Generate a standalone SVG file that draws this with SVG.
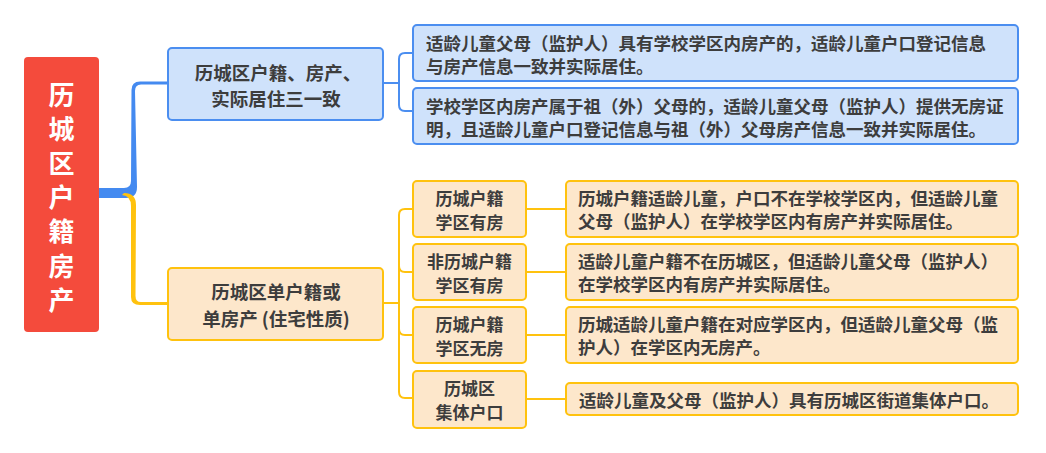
<svg xmlns="http://www.w3.org/2000/svg" width="1046" height="453" viewBox="0 0 1046 453">
<style>
text{font-family:"Noto Sans CJK SC","Noto Sans",sans-serif;font-weight:bold;fill:#3d3d3d;dominant-baseline:central}
.root{fill:#f44b3c}
.rt{fill:#ffffff;font-size:26px;text-anchor:middle}
.bn{fill:#cfe2fb;stroke:#4b8ef0;stroke-width:2}
.on{fill:#fde7cb;stroke:#ffc20e;stroke-width:2}
.mid{font-size:18.5px;text-anchor:middle}
.sm{font-size:17px;text-anchor:middle}
.dt{font-size:17.5px}
.bl{fill:none;stroke:#4b8ef0;stroke-width:2}
.ol{fill:none;stroke:#ffc20e;stroke-width:2}
</style>
<rect width="1046" height="453" fill="#ffffff"/>
<g id="connectors">
<path d="M99,188 L124,188 Q131,188 131,181 L131.5,90 Q131.5,81.5 140,81.5 L168,81.5 L168,84.5 L141,84.5 Q135,84.5 135,91 L137,187 Q137,198 126,198 L99,198 Z" fill="#448af0"/>
<path d="M122,195 Q131,196 131,206 L131,297 Q131,305 140,305 L168,305 L168,302 L141,302 Q135.5,302 135.5,296 L136,205 Q136,193 124,193 Z" fill="#ffc20e"/>
<path class="bl" d="M383,83 L399,83 M413,53 L405,53 Q399,53 399,59 L399,105 Q399,111 405,111 L413,111"/>
<path class="ol" d="M383,303 L399,303 M413,209 L405,209 Q399,209 399,215 L399,392 Q399,398 405,398 L413,398 M399,266 Q399,272 405,272 L413,272 M399,329 Q399,335 405,335 L413,335"/>
<path class="ol" d="M526,209 L566,209 M526,272 L566,272 M526,335 L566,335 M526,399 L566,399"/>
</g>
<g id="root">
<rect class="root" x="24" y="57" width="75" height="275" rx="4"/>
<text class="rt" x="61.5" y="93">历</text>
<text class="rt" x="61.5" y="127">城</text>
<text class="rt" x="61.5" y="161">区</text>
<text class="rt" x="61.5" y="195">户</text>
<text class="rt" x="61.5" y="229">籍</text>
<text class="rt" x="61.5" y="264">房</text>
<text class="rt" x="61.5" y="298">产</text>
</g>
<g id="blue-mid">
<rect class="bn" x="168" y="48" width="215" height="72" rx="4"/>
<text class="mid" x="278" y="72">历城区户籍、房产、</text>
<text class="mid" x="276" y="98">实际居住三一致</text>
</g>
<g id="blue-detail-1">
<rect class="bn" x="413" y="25" width="605" height="56" rx="4"/>
<text class="dt" x="426" y="42">适龄儿童父母（监护人）具有学校学区内房产的，适龄儿童户口登记信息</text>
<text class="dt" x="426" y="65">与房产信息一致并实际居住。</text>
</g>
<g id="blue-detail-2">
<rect class="bn" x="413" y="88" width="605" height="56" rx="4"/>
<text class="dt" x="426" y="105">学校学区内房产属于祖（外）父母的，适龄儿童父母（监护人）提供无房证</text>
<text class="dt" x="426" y="128">明，且适龄儿童户口登记信息与祖（外）父母房产信息一致并实际居住。</text>
</g>
<g id="orange-mid">
<rect class="on" x="168" y="268" width="215" height="72" rx="4"/>
<text class="mid" x="276" y="291">历城区单户籍或</text>
<text class="mid" x="276" y="318">单房产 (住宅性质)</text>
</g>
<g id="node-a">
<rect class="on" x="413" y="181" width="113" height="56" rx="4"/>
<text class="sm" x="469.5" y="197.5">历城户籍</text>
<text class="sm" x="469.5" y="221">学区有房</text>
</g>
<g id="node-b">
<rect class="on" x="413" y="244" width="113" height="56" rx="4"/>
<text class="sm" x="469.5" y="260.5">非历城户籍</text>
<text class="sm" x="469.5" y="284">学区有房</text>
</g>
<g id="node-c">
<rect class="on" x="413" y="307" width="113" height="56" rx="4"/>
<text class="sm" x="469.5" y="323.5">历城户籍</text>
<text class="sm" x="469.5" y="347">学区无房</text>
</g>
<g id="node-d">
<rect class="on" x="413" y="371" width="113" height="57" rx="4"/>
<text class="sm" x="469.5" y="387.5">历城区</text>
<text class="sm" x="469.5" y="411">集体户口</text>
</g>
<g id="detail-a">
<rect class="on" x="566" y="181" width="452" height="56" rx="4"/>
<text class="dt" x="578" y="197.5">历城户籍适龄儿童，户口不在学校学区内，但适龄儿童</text>
<text class="dt" x="578" y="220.5">父母（监护人）在学校学区内有房产并实际居住。</text>
</g>
<g id="detail-b">
<rect class="on" x="566" y="244" width="452" height="56" rx="4"/>
<text class="dt" x="578" y="260.5">适龄儿童户籍不在历城区，但适龄儿童父母（监护人）</text>
<text class="dt" x="578" y="283.5">在学校学区内有房产并实际居住。</text>
</g>
<g id="detail-c">
<rect class="on" x="566" y="307" width="452" height="56" rx="4"/>
<text class="dt" x="578" y="323.5">历城适龄儿童户籍在对应学区内，但适龄儿童父母（监</text>
<text class="dt" x="578" y="346.5">护人）在学区内无房产。</text>
</g>
<g id="detail-d">
<rect class="on" x="566" y="383" width="452" height="32" rx="4"/>
<text class="dt" x="579" y="399.5">适龄儿童及父母（监护人）具有历城区街道集体户口。</text>
</g>
</svg>
